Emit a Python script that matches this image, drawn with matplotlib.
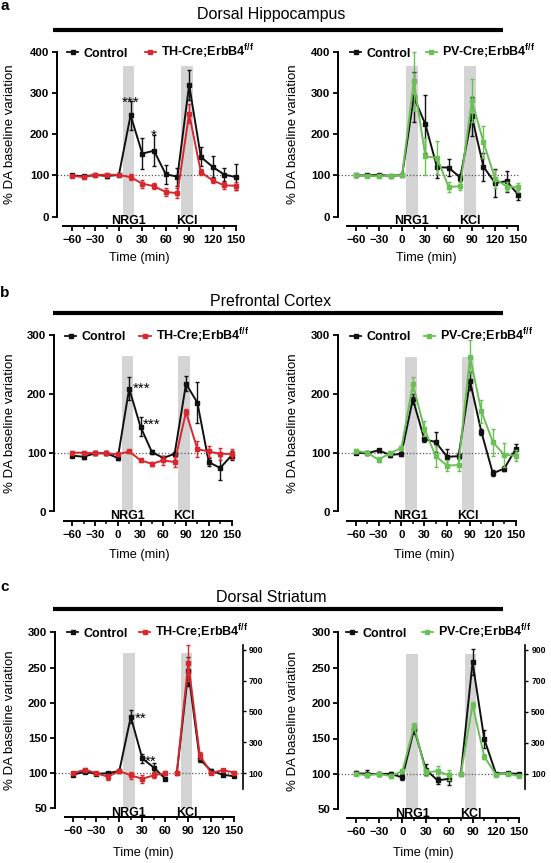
import matplotlib
matplotlib.use('Agg')
import matplotlib.pyplot as plt
from matplotlib.lines import Line2D

plt.rcParams['font.family'] = ['Liberation Sans', 'DejaVu Sans']
plt.rcParams['font.weight'] = 'bold'
plt.rcParams['mathtext.fontset'] = 'custom'
plt.rcParams['mathtext.bf'] = 'Liberation Sans:bold'
plt.rcParams['mathtext.rm'] = 'Liberation Sans:bold'
plt.rcParams['mathtext.default'] = 'bf'

# ---- data ----
time = [-60, -45, -30, -15, 0, 15, 30, 45, 60, 75, 90, 105, 120, 135, 150]
time_a = time[:9]    # striatum: first segment
time_b = time[9:]    # striatum: KCl segment (right axis)

# a: dorsal hippocampus
hip_ctrl_th = [100, 98, 101, 99, 101, 246, 153, 160, 103, 97, 320, 145, 121, 102, 96]
hip_ctrl_th_err = [3, 3, 3, 4, 3, 35, 38, 38, 23, 22, 36, 23, 25, 16, 31]
hip_th = [99, 96, 101, 102, 101, 96, 80, 74, 60, 57, 250, 108, 88, 76, 75]
hip_th_err = [3, 4, 3, 3, 3, 8, 10, 8, 10, 12, 24, 8, 6, 9, 10]

hip_ctrl_pv = [100, 100, 101, 99, 101, 290, 224, 120, 119, 95, 243, 121, 82, 86, 53]
hip_ctrl_pv_err = [3, 3, 3, 3, 3, 60, 70, 25, 20, 8, 48, 34, 34, 25, 13]
hip_pv = [100, 99, 98, 99, 101, 328, 146, 143, 72, 74, 282, 181, 92, 73, 71]
hip_pv_err = [3, 3, 3, 3, 3, 72, 45, 40, 12, 10, 53, 38, 22, 10, 10]

# b: prefrontal cortex
pfc_ctrl_th = [95, 93, 99, 99, 91, 209, 144, 101, 91, 98, 217, 185, 84, 74, 95]
pfc_ctrl_th_err = [3, 3, 3, 3, 3, 20, 16, 3, 4, 3, 13, 35, 7, 20, 7]
pfc_th = [100, 100, 99, 99, 97, 102, 87, 81, 87, 84, 169, 106, 102, 98, 98]
pfc_th_err = [3, 3, 3, 3, 3, 3, 3, 3, 8, 8, 5, 13, 10, 10, 8]

pfc_ctrl_pv = [100, 99, 104, 96, 98, 191, 123, 118, 93, 94, 222, 135, 65, 73, 106]
pfc_ctrl_pv_err = [3, 3, 3, 3, 3, 8, 5, 17, 14, 5, 15, 5, 5, 5, 8]
pfc_pv = [103, 100, 88, 99, 108, 216, 141, 94, 78, 79, 263, 170, 118, 96, 95]
pfc_pv_err = [4, 3, 4, 3, 3, 12, 12, 18, 10, 10, 28, 20, 23, 20, 10]

# c: dorsal striatum (second segment values on right axis)
str_ctrl_th_a = [98, 102, 99, 100, 103, 180, 121, 108, 92]
str_ctrl_th_a_err = [2, 2, 2, 2, 2, 9, 6, 6, 2]
str_th_a = [100, 105, 100, 95, 103, 97, 92, 97, 100]
str_th_a_err = [2, 3, 2, 4, 2, 5, 6, 4, 3]
str_ctrl_th_b = [100, 760, 190, 115, 90, 80]
str_ctrl_th_b_err = [5, 95, 20, 10, 5, 5]
str_th_b = [100, 815, 215, 100, 120, 104]
str_th_b_err = [5, 115, 25, 8, 8, 8]

str_ctrl_pv_a = [101, 100, 100, 100, 95, 164, 106, 91, 93]
str_ctrl_pv_a_err = [3, 5, 3, 3, 3, 7, 8, 5, 8]
str_pv_a = [100, 98, 100, 97, 104, 168, 102, 104, 98]
str_pv_a_err = [2, 3, 2, 3, 3, 4, 5, 7, 7]
str_ctrl_pv_b = [100, 820, 325, 102, 104, 100]
str_ctrl_pv_b_err = [5, 85, 55, 5, 5, 5]
str_pv_b = [100, 546, 212, 96, 102, 85]
str_pv_b_err = [5, 20, 18, 5, 5, 5]

TH_LABEL = r'TH-Cre;ErbB4$^{f/f}$'
PV_LABEL = r'PV-Cre;ErbB4$^{f/f}$'

BLACK = '#111111'
RED = '#d9272e'
GREEN = '#6abf55'
BAR_GRAY = '#d4d4d4'

W, H = 551, 863
fig = plt.figure(figsize=(W / 100, H / 100), dpi=100)


def fx(px):
    return px / W


def fy(py):
    return 1 - py / H


def make_ax(L, pm60, p150, ytop, ybot, ylim, right_px=None):
    s = (p150 - pm60) / 210.0
    if right_px is None:
        right_px = p150 + 2 * s
    ax = fig.add_axes([fx(L), fy(ybot), (right_px - L) / W, (ybot - ytop) / H])
    ax.set_xlim(-60 - (pm60 - L) / s, 150 + (right_px - p150) / s)
    ax.set_ylim(*ylim)
    for side in ('top', 'right'):
        ax.spines[side].set_visible(False)
    for side in ('left', 'bottom'):
        ax.spines[side].set_linewidth(1.4)
    ax.spines['left'].set_bounds(*ylim)
    ax.spines['bottom'].set_position(('outward', 6.5))
    ax.spines['bottom'].set_bounds(-71, 150)
    ax.set_xticks(range(-60, 151, 30))
    ax.set_xticks(range(-45, 150, 30), minor=True)
    step = 50 if ylim[0] == 50 else 100
    ax.set_yticks(range(ylim[0], ylim[1] + 1, step))
    ax.tick_params(which='major', width=1.3, length=3.5, labelsize=8.2, pad=2)
    ax.tick_params(axis='x', which='minor', width=1.1, length=2.2)
    ax.tick_params(axis='x', pad=3)
    return ax


def plot_series(ax, t, y, e, color, z):
    cont = ax.errorbar(t, y, yerr=e, color=color, marker='s', ms=3.4, lw=1.4,
                       elinewidth=1.0, capsize=1.6, capthick=1.0, zorder=z)
    cont.lines[0].set_clip_on(False)
    for a in list(cont.lines[1]) + list(cont.lines[2]):
        a.set_clip_on(False)


def stars(ax, x, y, s, ha):
    ax.text(x, y, s, ha=ha, va='baseline', fontsize=11, fontweight='normal')


def decorate(ax, ylim, bar_top, mut_color, mut_label, leg, colspace,
             xlab, ylab_x, ymid):
    for x0, x1 in ((5, 20), (80, 95)):
        ax.fill_between([x0, x1], ylim[0], bar_top, color=BAR_GRAY, lw=0, zorder=0)
    ax.axhline(100, color='#555555', ls=(0, (1, 1.6)), lw=0.9, zorder=1)
    for x, s in ((12.5, 'NRG1'), (87.5, 'KCl')):
        ax.annotate(s, xy=(x, 0), xycoords=('data', 'axes fraction'),
                    xytext=(0, -5.2), textcoords='offset points',
                    ha='center', va='baseline', fontsize=9)
    ax.set_xlabel('Time (min)', fontsize=9.2)
    ax.xaxis.set_label_coords(fx(xlab[0]), fy(xlab[1]), transform=fig.transFigure)
    ax.xaxis.label.set_va('center')
    ax.set_ylabel('% DA baseline variation', fontsize=9.5)
    ax.yaxis.set_label_coords(fx(ylab_x), fy(ymid), transform=fig.transFigure)
    ax.yaxis.label.set_va('center')
    handles = [Line2D([0], [0], color=BLACK, marker='s', ms=3.2, lw=1.3),
               Line2D([0], [0], color=mut_color, marker='s', ms=3.2, lw=1.3)]
    ax.legend(handles, ['Control', mut_label], ncol=2, loc='center left',
              bbox_to_anchor=(fx(leg[0]), fy(leg[1])), bbox_transform=fig.transFigure,
              frameon=False, prop={'weight': 'bold', 'size': 9},
              handlelength=0.9, handletextpad=0.4, columnspacing=colspace,
              borderpad=0, borderaxespad=0)


# ---- a: dorsal hippocampus ----
ax = make_ax(57, 72, 236, 51.7, 216.7, (0, 400))
plot_series(ax, time, hip_ctrl_th, hip_ctrl_th_err, BLACK, 3)
plot_series(ax, time, hip_th, hip_th_err, RED, 4)
decorate(ax, (0, 400), 366, RED, TH_LABEL, (67, 52), 1.35, (139, 258), 10, 134.2)
stars(ax, 15, 267, '***', 'center')
stars(ax, 45, 186, '*', 'center')

ax = make_ax(338, 355.7, 518.3, 51.7, 216.7, (0, 400))
plot_series(ax, time, hip_ctrl_pv, hip_ctrl_pv_err, BLACK, 3)
plot_series(ax, time, hip_pv, hip_pv_err, GREEN, 4)
decorate(ax, (0, 400), 366, GREEN, PV_LABEL, (350, 52), 1.2, (426, 258), 293, 134.2)

# ---- b: prefrontal cortex ----
ax = make_ax(54, 72.3, 231.5, 335, 511.5, (0, 300))
plot_series(ax, time, pfc_ctrl_th, pfc_ctrl_th_err, BLACK, 3)
plot_series(ax, time, pfc_th, pfc_th_err, RED, 4)
decorate(ax, (0, 300), 264, RED, TH_LABEL, (65, 335.5), 1.1, (139.5, 555), 10, 423)
stars(ax, 20, 201, '***', 'left')
stars(ax, 33, 141, '***', 'left')

ax = make_ax(338, 355.7, 515.7, 335, 511.5, (0, 300))
plot_series(ax, time, pfc_ctrl_pv, pfc_ctrl_pv_err, BLACK, 3)
plot_series(ax, time, pfc_pv, pfc_pv_err, GREEN, 4)
decorate(ax, (0, 300), 263, GREEN, PV_LABEL, (350, 335.5), 1.05, (424.5, 555), 293, 423)

# ---- c: dorsal striatum (KCl segment on right axis) ----
K = 0.219  # left units per right unit around the 100 line


def striatum(ax, ctrl_a, ctrl_a_err, mut_a, mut_a_err, ctrl_b, ctrl_b_err,
             mut_b, mut_b_err, color):
    plot_series(ax, time_a, ctrl_a, ctrl_a_err, BLACK, 3)
    plot_series(ax, time_a, mut_a, mut_a_err, color, 4)
    ax2 = ax.twinx()
    lo, hi = ax.get_ylim()
    ax2.set_ylim(100 + (lo - 100) / K, 100 + (hi - 100) / K)
    for side in ('top', 'left', 'bottom'):
        ax2.spines[side].set_visible(False)
    ax2.spines['right'].set_bounds(0, 930)
    ax2.spines['right'].set_linewidth(1.2)
    ax2.set_yticks([100, 300, 500, 700, 900])
    ax2.tick_params(axis='y', width=1.0, length=2.5, labelsize=6.2, pad=2)
    plot_series(ax2, time_b, ctrl_b, ctrl_b_err, BLACK, 3)
    plot_series(ax2, time_b, mut_b, mut_b_err, color, 4)
    return ax2


ax = make_ax(55, 73.3, 234.3, 632.3, 808.4, (50, 300), right_px=242.7)
striatum(ax, str_ctrl_th_a, str_ctrl_th_a_err, str_th_a, str_th_a_err,
         str_ctrl_th_b, str_ctrl_th_b_err, str_th_b, str_th_b_err, RED)
decorate(ax, (50, 300), 270, RED, TH_LABEL, (67, 632), 0.9, (143.5, 852.7), 10, 720.4)
stars(ax, 20, 171, '**', 'left')
stars(ax, 33, 111, '**', 'left')

ax = make_ax(338.3, 355.7, 519.3, 632.3, 809.3, (50, 300), right_px=525)
striatum(ax, str_ctrl_pv_a, str_ctrl_pv_a_err, str_pv_a, str_pv_a_err,
         str_ctrl_pv_b, str_ctrl_pv_b_err, str_pv_b, str_pv_b_err, GREEN)
decorate(ax, (50, 300), 270, GREEN, PV_LABEL, (346, 632), 1.2, (423.5, 852.7), 293, 720.8)

# ---- section headers ----
sections = [('a', 'Dorsal Hippocampus', 6, 15, 30),
            ('b', 'Prefrontal Cortex', 293, 301, 313),
            ('c', 'Dorsal Striatum', 587, 597.5, 609.3)]
for letter, title, ly, ty, liney in sections:
    fig.text(fx(5), fy(ly), letter, ha='center', va='center', fontsize=11, fontweight='bold')
    fig.text(fx(271), fy(ty), title, ha='center', va='center', fontsize=11.5,
             fontweight='normal')
    fig.add_artist(Line2D([fx(53), fx(503)], [fy(liney), fy(liney)], color='black',
                          lw=3, solid_capstyle='butt'))

fig.savefig('out.png', dpi=100)
